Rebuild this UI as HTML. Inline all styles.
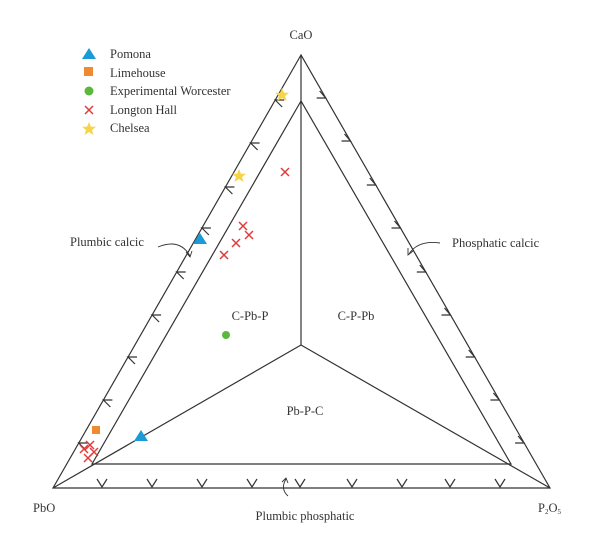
<!DOCTYPE html>
<html><head><style>
body{margin:0;background:#fff;}
svg text{font-family:"Liberation Serif",serif;fill:#333;}
</style></head><body>
<svg width="600" height="550" viewBox="0 0 600 550" xmlns="http://www.w3.org/2000/svg">
<g stroke="#333" stroke-width="1.2" fill="none">
<polygon points="301,55 53,488 550,488"/>
<polygon points="301,101 92,464 511,464"/>
<line x1="301" y1="55" x2="301" y2="345"/>
<line x1="53" y1="488" x2="301" y2="345"/>
<line x1="550" y1="488" x2="301" y2="345"/>
<path d="M284.2,100 L275.2,100 L282.2,107 M259.6,143 L250.6,143 L257.6,150 M234.4,187 L225.4,187 L232.4,194 M210.9,228 L201.9,228 L208.9,235 M185.7,272 L176.7,272 L183.7,279 M161.1,315 L152.1,315 L159.1,322 M137,357 L128,357 L135,364 M112.4,400 L103.4,400 L110.4,407 M87.8,443 L78.8,443 L85.8,450"/>
<path d="M316.7,98 L325.7,98 L319.7,91 M341.5,141 L350.5,141 L344.5,134 M366.8,185 L375.8,185 L369.8,178 M391.5,228 L400.5,228 L394.5,221 M416.8,272 L425.8,272 L419.8,265 M441.5,315 L450.5,315 L444.5,308 M465.7,357 L474.7,357 L468.7,350 M490.4,400 L499.4,400 L493.4,393 M515.1,443 L524.1,443 L518.1,436"/>
<path d="M97,479 L102,487 L107,479 M147,479 L152,487 L157,479 M197,479 L202,487 L207,479 M247,479 L252,487 L257,479 M295,479 L300,487 L305,479 M347,479 L352,487 L357,479 M397,479 L402,487 L407,479 M445,479 L450,487 L455,479 M495,479 L500,487 L505,479"/>
<path d="M158,247 Q180,238 190,256 M186,252 L190,257 L192,251" stroke-width="0.9"/>
<path d="M440,243 Q418,240 409,254 M408,248 L408,255 L413,251" stroke-width="0.9"/>
<path d="M288,496 Q280,489 286,479 M282,482 L286,478 L288,483" stroke-width="0.9"/>
</g>
<g font-size="12.5">
<text x="301" y="39" text-anchor="middle">CaO</text>
<text x="33" y="512">PbO</text>
<text x="538" y="512">P<tspan font-size="7" dy="2">2</tspan><tspan dy="-2">O</tspan><tspan font-size="7" dy="2">5</tspan></text>
<text x="70" y="246">Plumbic calcic</text>
<text x="452" y="247">Phosphatic calcic</text>
<text x="305" y="520" text-anchor="middle">Plumbic phosphatic</text>
<text x="250" y="320" text-anchor="middle">C-Pb-P</text>
<text x="356" y="320" text-anchor="middle">C-P-Pb</text>
<text x="305" y="415" text-anchor="middle">Pb-P-C</text>
<text x="110" y="58">Pomona</text>
<text x="110" y="77">Limehouse</text>
<text x="110" y="95">Experimental Worcester</text>
<text x="110" y="114">Longton Hall</text>
<text x="110" y="132">Chelsea</text>
</g>
<defs>
<polygon id="tri" points="0,-6 7,5 -7,5" fill="#1a9ad6"/>
<polygon id="star" points="0,-7 2,-2.2 7,-2.2 3,1 4.6,6 0,3 -4.6,6 -3,1 -7,-2.2 -2,-2.2" fill="#f5d547"/>
<path id="x" d="M-4,-4 L4,4 M-4,4 L4,-4" stroke="#e03c3c" stroke-width="1.5"/>
</defs>
<use href="#tri" x="89" y="54"/>
<rect x="84" y="67" width="9" height="9" fill="#f08a30"/>
<circle cx="89" cy="91" r="4.5" fill="#5cb83c"/>
<use href="#x" x="89" y="110"/>
<use href="#star" x="89" y="129"/>
<use href="#star" x="282" y="95"/>
<use href="#star" x="239" y="176"/>
<use href="#tri" x="200" y="239"/>
<use href="#tri" x="141" y="436"/>
<rect x="92" y="426" width="8" height="8" fill="#f08a30"/>
<circle cx="226" cy="335" r="4" fill="#5cb83c"/>
<use href="#x" x="285" y="172"/>
<use href="#x" x="243" y="226"/>
<use href="#x" x="249" y="235"/>
<use href="#x" x="236" y="243"/>
<use href="#x" x="224" y="255"/>
<use href="#x" x="84" y="449"/>
<use href="#x" x="90" y="445"/>
<use href="#x" x="88" y="458"/>
<use href="#x" x="94" y="452"/>
</svg>
</body></html>
